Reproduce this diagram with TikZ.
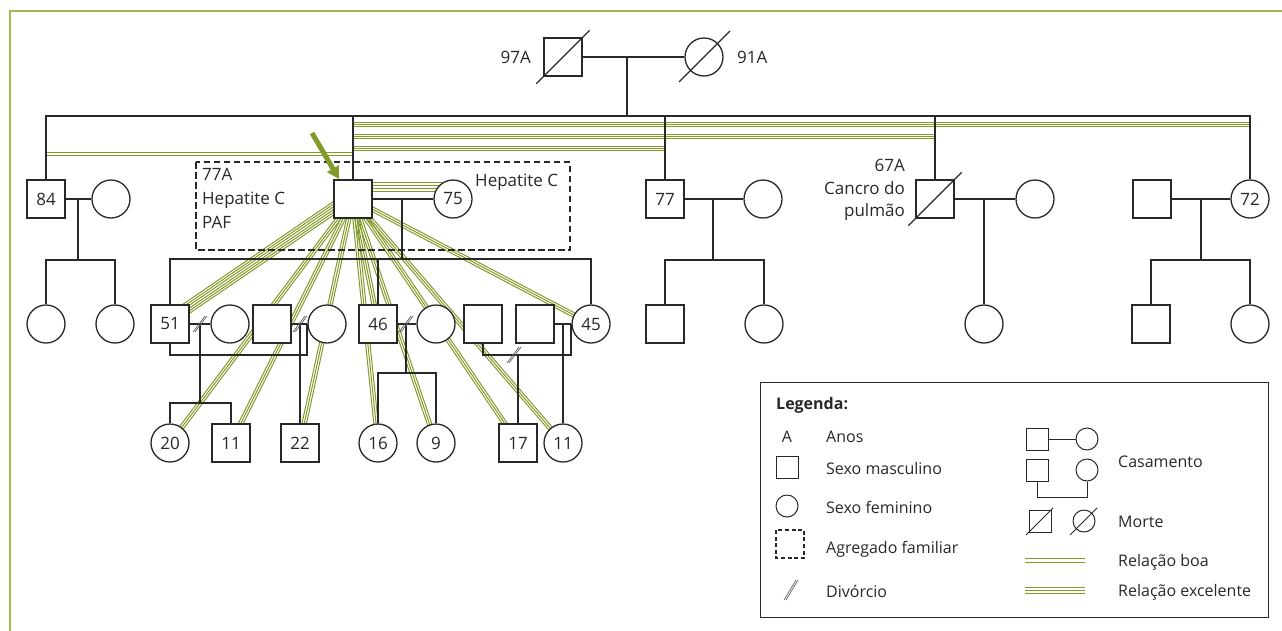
\documentclass[tikz,border=0pt]{standalone}
\usepackage{fontspec}
\setmainfont{Open Sans}
\usetikzlibrary{calc,arrows.meta}
\definecolor{relc}{RGB}{130,154,40}
\definecolor{framec}{RGB}{168,184,80}
\definecolor{ink}{RGB}{40,40,40}
\pgfdeclarelayer{bg}
\pgfsetlayers{bg,main}
\newcommand\relband[3]{\foreach \o in {#3}{\draw[relline] ($(#1)!\o pt!90:(#2)$) -- ($(#2)!\o pt!-90:(#1)$);}}
\newcommand\divmark[1]{\draw[divl] ($(#1)+(-7,8)$) -- ($(#1)+(5,-8)$); \draw[divl] ($(#1)+(-5,8)$) -- ($(#1)+(7,-8)$);}
\begin{document}
\begin{tikzpicture}[x=1pt,y=-1pt,
  ln/.style={draw=ink,line width=1.3pt},
  relline/.style={draw=relc,line width=1pt},
  divl/.style={draw=ink!75,line width=0.7pt},
  sq/.style={draw=ink,line width=1.3pt,fill=white,rectangle,minimum size=38pt,inner sep=0pt,font=\fontsize{17}{17}\selectfont,text=ink},
  ci/.style={sq,circle},
  lab/.style={inner sep=0pt,font=\fontsize{17}{17}\selectfont,text=ink},
  leg/.style={inner sep=0pt,font=\fontsize{16}{16}\selectfont,text=ink,anchor=base west},
  lsq/.style={draw=ink,line width=1pt,fill=white,rectangle,minimum size=22pt,inner sep=0pt},
  lci/.style={lsq,circle}
]
\useasboundingbox (0,0) rectangle (1282,630);
\draw[framec,line width=1.3pt] (10,640) -- (10,11) -- (1290,11);

% ---------- generation 1
\node[sq] (gf) at (563,57) {};
\node[ci] (gm) at (704,57) {};
\draw[ln] ($(gf.south west)+(-7,7)$) -- ($(gf.north east)+(7,-7)$);
\draw[ln] ($(gm.center)+(-25,25)$) -- ($(gm.center)+(26,-26)$);
\node[lab,anchor=east] (l97) at (531,57) {97A};
\node[lab,anchor=west] (l91) at (737,57) {91A};
\coordinate (gmid) at (627,57);
\coordinate (sbL) at (46,116);
\coordinate (sbR) at (1250,116);
\draw[ln] (gf) -- (gm);
\draw[ln] (gmid) -- (gmid |- sbL);

% ---------- generation 2
\node[sq] (b84) at (46,199) {84};
\node[ci] (w84) at (111,199) {};
\node[sq] (pt) at (353,199) {};
\node[ci] (w75) at (453,199) {75};
\node[sq] (b77) at (665,199) {77};
\node[ci] (w77) at (763,199) {};
\node[sq] (b67) at (935,199) {};
\node[ci] (w67) at (1035,199) {};
\node[sq] (h72) at (1152,199) {};
\node[ci] (s72) at (1250,199) {72};
\draw[ln] ($(b67.south west)+(-7,7)$) -- ($(b67.north east)+(7,-7)$);

\draw[ln] (b84.north) -- (b84.north |- sbL) -- (sbR) -- (s72.north);
\foreach \n in {pt,b77,b67} \draw[ln] (\n.north) -- (\n.north |- sbL);

% ---------- generation 3
\node[ci] (k1) at (46,324) {};
\node[ci] (k2) at (115,324) {};
\node[sq] (c51) at (170,324) {51};
\node[ci] (c51w) at (230,324) {};
\node[sq] (c272) at (272,324) {};
\node[ci] (c327) at (327,324) {};
\node[sq] (c46) at (378,324) {46};
\node[ci] (c46w) at (436,324) {};
\node[sq] (c483) at (483,324) {};
\node[sq] (c535) at (535,324) {};
\node[ci] (c45) at (591,324) {45};
\node[sq] (k3) at (665,324) {};
\node[ci] (k4) at (764,324) {};
\node[ci] (k5) at (984,324) {};
\node[sq] (k6) at (1151,324) {};
\node[ci] (k7) at (1250,324) {};

% ---------- generation 4
\node[ci] (g20) at (170,443) {20};
\node[sq] (g11a) at (231,443) {11};
\node[sq] (g22) at (300,443) {22};
\node[ci] (g16) at (378,443) {16};
\node[ci] (g9) at (436,443) {9};
\node[sq] (g17) at (518,443) {17};
\node[ci] (g11b) at (563,443) {11};

% ---------- family lines
\draw[ln] (b84) -- (w84);
\coordinate (m84) at (78,199); \coordinate (j84) at (78,260);
\draw[ln] (m84) -- (j84);
\draw[ln] (k1.north) |- (j84) -| (k2.north);

\draw[ln] (pt) -- (w75);
\coordinate (mP) at (402,199); \coordinate (jP) at (402,259);
\draw[ln] (mP) -- (jP);
\draw[ln] (c51.north) |- (jP) -| (c45.north);
\draw[ln] (c46.north) -- (c46.north |- jP);

\draw[ln] (c51) -- (c51w);
\coordinate (m51) at (200,324); \coordinate (j51) at (200,403);
\draw[ln] (m51) -- (j51);
\draw[ln] (g20.north) |- (j51) -| (g11a.north);
\divmark{m51}
\coordinate (b51) at (307,355);
\draw[ln] (c51.south) |- (b51) -- (b51 |- c327.west);

\draw[ln] (c272) -- (c327);
\coordinate (m272) at (300,324);
\draw[ln] (m272) -- (g22.north);
\divmark{m272}

\draw[ln] (c46) -- (c46w);
\coordinate (m46) at (406,324); \coordinate (j46) at (406,373);
\draw[ln] (m46) -- (j46);
\draw[ln] (g16.north) |- (j46) -| (g9.north);
\divmark{m46}

\coordinate (b483) at (571,355);
\draw[ln] (c483.south) |- (b483) -- (b483 |- c45.west);
\coordinate (m17) at (518,355);
\draw[ln] (m17) -- (g17.north);
\coordinate (d17) at (514,355);
\divmark{d17}

\draw[ln] (c535) -- (c45);
\coordinate (m535) at (563,324);
\draw[ln] (m535) -- (g11b.north);

\draw[ln] (b77) -- (w77);
\coordinate (m77) at (713,199); \coordinate (j77) at (713,260);
\draw[ln] (m77) -- (j77);
\draw[ln] (k3.north) |- (j77) -| (k4.north);

\draw[ln] (b67) -- (w67);
\coordinate (m67) at (984,199);
\draw[ln] (m67) -- (k5.north);

\draw[ln] (h72) -- (s72);
\coordinate (m72) at (1201,199); \coordinate (j72) at (1201,260);
\draw[ln] (m72) -- (j72);
\draw[ln] (k6.north) |- (j72) -| (k7.north);

% ---------- household box and labels
\draw[ink,line width=2.6pt,dash pattern=on 6.5pt off 3.5pt] (196,162) rectangle (570,250);
\node[lab,anchor=base west] (t1) at (202,180) {77A};
\node[lab,anchor=base west] (t2) at (202,204) {Hepatite C};
\node[lab,anchor=base west] (t3) at (202,228) {PAF};
\node[lab,anchor=base west] (t4) at (475,186) {Hepatite C};
\node[lab,anchor=base east] (t5) at (905,171) {67A};
\node[lab,anchor=base east] (t6) at (905,194) {Cancro do};
\node[lab,anchor=base east] (t7) at (905,216) {pulmão};

% ---------- arrow to index person
\coordinate (arS) at (312,133);
\coordinate (arE) at (339,179);
\draw[relc,line width=5pt,-{Triangle[length=12pt,width=13pt]}] (arS) -- (arE);

% ---------- relationship bands
\begin{pgfonlayer}{bg}
\coordinate (ra1) at (353,124.5); \coordinate (ra2) at (1250,124.5);
\coordinate (rb1) at (353,136.5); \coordinate (rb2) at (935,136.5);
\coordinate (rc1) at (353,148.5); \coordinate (rc2) at (665,148.5);
\coordinate (rd1) at (46,154);    \coordinate (rd2) at (353,154);
\coordinate (rw1) at (353,187);   \coordinate (rw2) at (453,187);
\relband{ra1}{ra2}{-2,0,2}
\relband{rb1}{rb2}{-2,0,2}
\relband{rc1}{rc2}{-2,0,2}
\relband{rd1}{rd2}{-1.5,1.5}
\relband{rw1}{rw2}{-4.5,-1.5,1.5,4.5}
\relband{pt}{c51}{-9,-6.8,-4.6}
\foreach \t in {c51,g20,g11a,g22,c46,g16,g9,g17,g11b,c45}{\relband{pt}{\t}{-2.2,0,2.2}}
\end{pgfonlayer}

% ---------- legend
\draw[ln,line width=1pt] (760,382) rectangle (1268,617);
\node[leg,font=\bfseries\fontsize{16}{16}\selectfont] (lt) at (776,409) {Legenda:};
\node[leg,anchor=base] (lA) at (787,442) {A};
\node[leg] (lAt) at (826,442) {Anos};
\node[lsq] (lm) at (787,467) {};
\node[leg] (lmt) at (826,474) {Sexo masculino};
\node[lci] (lf) at (787,506) {};
\node[leg] (lft) at (826,513) {Sexo feminino};
\node[lsq,draw=none,fill=none,minimum size=27pt] (lh) at (790,544) {};
\draw[ink,line width=2.2pt,dash pattern=on 4pt off 2.6pt] (lh.north west) rectangle (lh.south east);
\node[leg] (lht) at (826,553) {Agregado familiar};
\coordinate (ld) at (791,590);
\draw[divl] ($(ld)+(-7,10)$) -- ($(ld)+(5,-10)$);
\draw[divl] ($(ld)+(-5,10)$) -- ($(ld)+(7,-10)$);
\node[leg] (ldt) at (826,597) {Divórcio};

\node[lsq] (lc1s) at (1037,439) {};
\node[lci] (lc1c) at (1087,439) {};
\draw[ln,line width=1pt] (lc1s) -- (lc1c);
\node[lsq] (lc2s) at (1037,470) {};
\node[lci] (lc2c) at (1087,470) {};
\coordinate (lc2b) at (1037,497);
\draw[ln,line width=1pt] (lc2s.south) -- (lc2b) -| (lc2c.south);
\node[leg] (lct) at (1118,467) {Casamento};
\node[lsq] (lds) at (1040,521) {};
\node[lci] (ldc) at (1084,521) {};
\draw[ln,line width=1pt] ($(lds.center)+(-14,14)$) -- ($(lds.center)+(13,-13)$);
\draw[ln,line width=1pt] ($(ldc.center)+(-14,14)$) -- ($(ldc.center)+(13,-13)$);
\node[leg] (ldt2) at (1118,527) {Morte};
\coordinate (lb1) at (1025,560.5); \coordinate (lb2) at (1085,560.5);
\relband{lb1}{lb2}{-2,2}
\node[leg] (lbt) at (1118,566) {Relação boa};
\coordinate (le1) at (1025,590.5); \coordinate (le2) at (1085,590.5);
\relband{le1}{le2}{-3,0,3}
\node[leg] (let) at (1118,596) {Relação excelente};
\end{tikzpicture}
\end{document}
